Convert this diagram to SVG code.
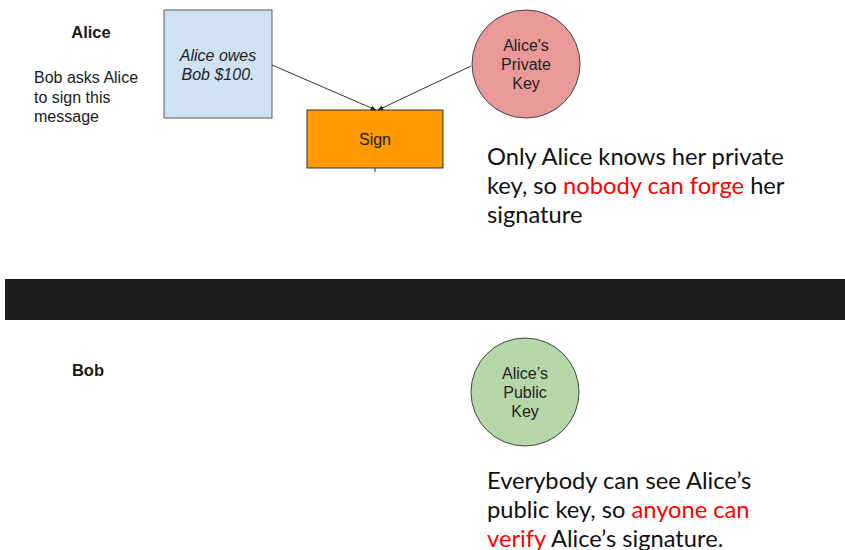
<svg xmlns="http://www.w3.org/2000/svg" width="845" height="550" viewBox="0 0 845 550">
  <style>
    .label { font-family: "Liberation Sans", Arial, sans-serif; font-size: 16px; fill: #1a1a1a; }
    .node-text { font-family: "Liberation Sans", Arial, sans-serif; font-size: 16px; fill: #222; text-anchor: middle; }
    .bold { font-weight: bold; font-size: 16.5px; }
    .note { font-family: Lato, "Open Sans", sans-serif; font-size: 23.7px; fill: #111; }
    .hl { fill: #ff0000; }
    .edge { stroke: #333; stroke-width: 1; fill: none; }
  </style>
  <defs>
    <marker id="arrow" viewBox="0 0 10 10" refX="9" refY="5" markerWidth="6" markerHeight="6" orient="auto">
      <path d="M0,1 L10,5 L0,9 z" fill="#222"/>
    </marker>
  </defs>

  <rect width="845" height="550" fill="#ffffff"/>

  <!-- Alice's side -->
  <g id="alice-title">
    <text class="label bold" x="91" y="38" text-anchor="middle">Alice</text>
  </g>
  <g id="request-note">
    <text class="label" x="34" y="83">Bob asks Alice</text>
    <text class="label" x="34" y="102.5">to sign this</text>
    <text class="label" x="34" y="122">message</text>
  </g>

  <g id="message">
    <rect x="164" y="10" width="108" height="108" fill="#cfe2f3" stroke="#595959" stroke-width="1"/>
    <text class="node-text" x="218" y="61" font-style="italic">Alice owes</text>
    <text class="node-text" x="218" y="80" font-style="italic">Bob $100.</text>
  </g>

  <g id="private-key">
    <circle cx="526" cy="64" r="54" fill="#ea9999" stroke="#444" stroke-width="1"/>
    <text class="node-text" x="526" y="51">Alice's</text>
    <text class="node-text" x="526" y="70">Private</text>
    <text class="node-text" x="526" y="89">Key</text>
  </g>

  <g id="sign">
    <rect x="307" y="110" width="136" height="58" fill="#ff9900" stroke="#333" stroke-width="1"/>
    <text class="node-text" x="375" y="145">Sign</text>
  </g>

  <g id="connectors">
    <line class="edge" x1="272" y1="65" x2="376" y2="110" marker-end="url(#arrow)"/>
    <line class="edge" x1="471" y1="66" x2="378" y2="110" marker-end="url(#arrow)"/>
    <line class="edge" x1="375" y1="168" x2="375" y2="172"/>
  </g>

  <g id="private-note">
    <text class="note" x="487" y="165">Only Alice knows her private</text>
    <text class="note" x="487" y="194">key, so <tspan class="hl">nobody can forge</tspan> her</text>
    <text class="note" x="487" y="223">signature</text>
  </g>

  <!-- divider -->
  <rect id="divider" x="5" y="279" width="840" height="41" fill="#1c1c1c"/>

  <!-- Bob's side -->
  <g id="bob-title">
    <text class="label bold" x="88" y="376" text-anchor="middle">Bob</text>
  </g>

  <g id="public-key">
    <circle cx="525" cy="392" r="54" fill="#b6d7a8" stroke="#444" stroke-width="1"/>
    <text class="node-text" x="525" y="379">Alice’s</text>
    <text class="node-text" x="525" y="398">Public</text>
    <text class="node-text" x="525" y="417">Key</text>
  </g>

  <g id="public-note">
    <text class="note" x="487" y="489">Everybody can see Alice’s</text>
    <text class="note" x="487" y="518">public key, so <tspan class="hl">anyone can</tspan></text>
    <text class="note" x="487" y="547"><tspan class="hl">verify</tspan> Alice’s signature.</text>
  </g>
</svg>
